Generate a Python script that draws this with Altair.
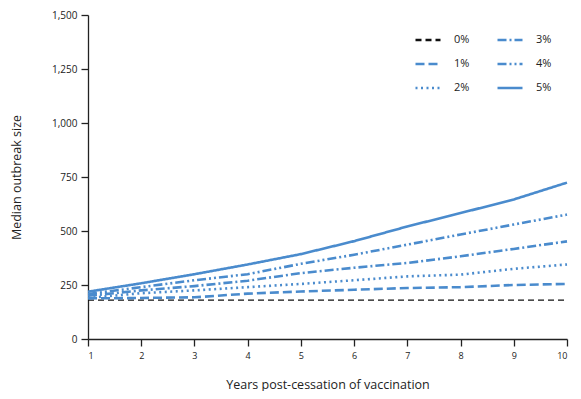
import altair as alt
import pandas as pd

years = [1, 2, 3, 4, 5, 6, 7, 8, 9, 10]
s0 = [180, 180, 180, 180, 180, 180, 180, 180, 180, 180]
s1 = [188, 190, 193, 210, 220, 228, 236, 240, 250, 255]
s2 = [190, 212, 225, 240, 255, 272, 290, 298, 325, 345]
s3 = [200, 225, 245, 270, 305, 330, 352, 383, 417, 452]
s4 = [208, 240, 272, 300, 348, 390, 437, 484, 530, 576]
s5 = [219, 258, 300, 345, 393, 453, 521, 583, 646, 724]
series_names = ["0%", "1%", "2%", "3%", "4%", "5%"]
series_vals = [s0, s1, s2, s3, s4, s5]

rows = []
for name, vals in zip(series_names, series_vals):
    for yr, v in zip(years, vals):
        rows.append({"year": yr, "value": v, "series": name})
df = pd.DataFrame(rows)

blue = "#4a8bcd"
color_range = ["#111111", blue, blue, blue, blue, blue]
dash_range = [
    [6, 4],
    [9, 4],
    [2, 3.5],
    [9, 3, 2, 3],
    [9, 3, 2, 3, 2, 3],
    [1, 0],
]

font = "Open Sans"
ink = "#222222"

legend = alt.Legend(
    title=None,
    orient="none",
    legendX=326,
    legendY=11,
    columns=2,
    symbolType="stroke",
    symbolSize=625,
    symbolStrokeWidth=2.5,
    labelFont=font,
    labelFontSize=11,
    labelColor=ink,
    rowPadding=5,
    columnPadding=22,
    labelOffset=12,
)

x_enc = alt.X(
    "year:Q",
    scale=alt.Scale(domain=[1, 10], nice=False, zero=False),
    axis=alt.Axis(
        values=years,
        format="d",
        title="Years post-cessation of vaccination",
        grid=False,
        domainColor=ink,
        tickColor=ink,
        tickSize=7,
        domainWidth=1.3,
        tickWidth=1.3,
        labelFont=font,
        labelFontSize=9,
        labelColor=ink,
        labelPadding=5,
        titleFont=font,
        titleFontSize=12.5,
        titleFontWeight="normal",
        titleColor=ink,
        titlePadding=18,
    ),
)
y_enc = alt.Y(
    "value:Q",
    scale=alt.Scale(domain=[0, 1500], nice=False),
    axis=alt.Axis(
        values=[0, 250, 500, 750, 1000, 1250, 1500],
        format=",d",
        title="Median outbreak size",
        grid=False,
        domainColor=ink,
        tickColor=ink,
        tickSize=7,
        domainWidth=1.3,
        tickWidth=1.3,
        labelFont=font,
        labelFontSize=10,
        labelColor=ink,
        labelPadding=4,
        titleFont=font,
        titleFontSize=12.5,
        titleFontWeight="normal",
        titleColor=ink,
        titlePadding=28,
    ),
)
color_enc = alt.Color(
    "series:N",
    scale=alt.Scale(domain=series_names, range=color_range),
    legend=legend,
)
dash_enc = alt.StrokeDash(
    "series:N",
    scale=alt.Scale(domain=series_names, range=dash_range),
    legend=legend,
)

base = alt.Chart(df).encode(x=x_enc, y=y_enc, color=color_enc, strokeDash=dash_enc)

black_layer = base.transform_filter(alt.datum.series == "0%").mark_line(strokeWidth=1.3)
blue_layer = base.transform_filter(alt.datum.series != "0%").mark_line(strokeWidth=2.6)

chart = (
    alt.layer(black_layer, blue_layer)
    .properties(
        width=565,
        height=383,
        autosize=alt.AutoSizeParams(type="fit", contains="padding"),
        padding={"left": 2, "top": 2, "right": 0, "bottom": 0},
    )
    .configure_view(stroke=None)
)

chart.save("out.html", embed_options={"renderer": "svg", "actions": False})
